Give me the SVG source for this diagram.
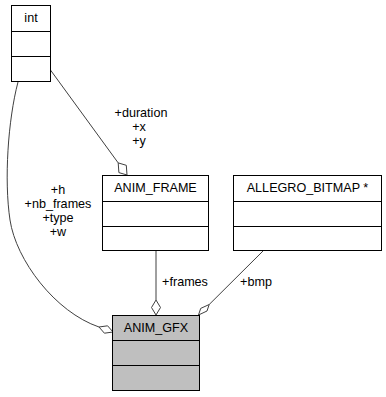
<svg xmlns="http://www.w3.org/2000/svg" width="386" height="397" viewBox="0 0 386 397">
  <style>
    .box { fill: #ffffff; stroke: #000000; stroke-width: 1; }
    .box.focus { fill: #bfbfbf; }
    .sep { stroke: #000000; stroke-width: 1; }
    .edge { fill: none; stroke: #404040; stroke-width: 1; }
    .dia { fill: #ffffff; stroke: #404040; stroke-width: 1; stroke-linejoin: miter; }
    text { font-family: "Liberation Sans", Arial, sans-serif; font-size: 12.6px; fill: #000000; text-anchor: middle; }
  </style>
  <rect width="386" height="397" fill="#ffffff"/>

  <!-- connectors (aggregation, hollow diamond at the owning class) -->
  <g id="connectors">
    <!-- int -> ANIM_GFX : +h +nb_frames +type +w -->
    <path class="edge" d="M18,82 C8,120 4,180 10,220 C16,260 55,312 99,327"/>
    <polygon class="dia" points="99,327 107.6,325.8 113,332 104.4,333.2"/>
    <text x="58" y="194">+h</text>
    <text x="58" y="208">+nb_frames</text>
    <text x="58" y="222">+type</text>
    <text x="58" y="236">+w</text>

    <!-- int -> ANIM_FRAME : +duration +x +y -->
    <path class="edge" d="M49,68 L118.2,162.9"/>
    <polygon class="dia" points="118.2,162.9 126.3,165.3 127,175 118.9,172.6"/>
    <text x="141" y="117">+duration</text>
    <text x="139" y="131">+x</text>
    <text x="139" y="145">+y</text>

    <!-- ANIM_FRAME -> ANIM_GFX : +frames -->
    <path class="edge" d="M156,251 L156,300"/>
    <polygon class="dia" points="156,300 160.5,307.5 156,315 151.5,307.5"/>
    <text x="185" y="286">+frames</text>

    <!-- ALLEGRO_BITMAP * -> ANIM_GFX : +bmp -->
    <path class="edge" d="M263,251 L209.2,304.5"/>
    <polygon class="dia" points="209.2,304.5 207,311 198.5,315 200.7,308.4"/>
    <text x="256" y="286">+bmp</text>
  </g>

  <g id="node-int">
    <rect class="box" x="11.5" y="5.5" width="39" height="76"/>
    <line class="sep" x1="11.5" y1="31.5" x2="50.5" y2="31.5"/>
    <line class="sep" x1="11.5" y1="56.5" x2="50.5" y2="56.5"/>
    <text x="31" y="22">int</text>
  </g>

  <g id="node-anim-frame">
    <rect class="box" x="102.5" y="175.5" width="106" height="75"/>
    <line class="sep" x1="102.5" y1="201.5" x2="208.5" y2="201.5"/>
    <line class="sep" x1="102.5" y1="226.5" x2="208.5" y2="226.5"/>
    <text x="155.5" y="192">ANIM_FRAME</text>
  </g>

  <g id="node-allegro-bitmap">
    <rect class="box" x="233.5" y="175.5" width="148" height="75"/>
    <line class="sep" x1="233.5" y1="201.5" x2="381.5" y2="201.5"/>
    <line class="sep" x1="233.5" y1="226.5" x2="381.5" y2="226.5"/>
    <text x="307.5" y="192">ALLEGRO_BITMAP *</text>
  </g>

  <g id="node-anim-gfx">
    <rect class="box focus" x="112.5" y="315.5" width="87" height="75"/>
    <line class="sep" x1="112.5" y1="340.5" x2="199.5" y2="340.5"/>
    <line class="sep" x1="112.5" y1="365.5" x2="199.5" y2="365.5"/>
    <text x="156" y="332">ANIM_GFX</text>
  </g>
</svg>
